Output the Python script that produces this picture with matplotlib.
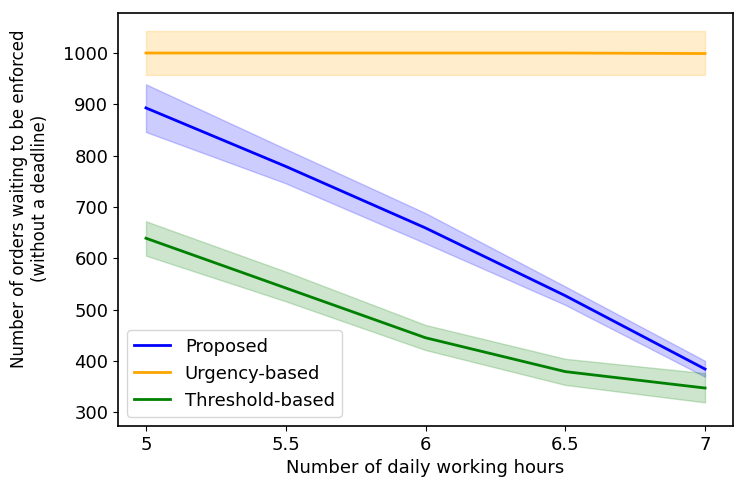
import matplotlib
matplotlib.use("Agg")
from matplotlib import pyplot as plt

hours = [5, 5.5, 6, 6.5, 7]
hour_labels = ["5", "5.5", "6", "6.5", "7"]

proposed = [893, 779, 659, 527, 384]
proposed_lo = [846, 746, 629, 509, 369]
proposed_hi = [939, 813, 688, 545, 400]

urgency = [1000, 1000, 1000, 1000, 999]
urgency_lo = [958, 958, 958, 958, 958]
urgency_hi = [1042, 1042, 1042, 1042, 1042]

threshold = [639, 542, 445, 379, 347]
threshold_lo = [605, 516, 421, 353, 319]
threshold_hi = [672, 574, 470, 404, 376]

plt.rcParams["font.size"] = 13
plt.rcParams["axes.linewidth"] = 1.2

fig = plt.figure(figsize=(7.47, 4.9), dpi=100)
ax = fig.add_axes([118 / 747, 1 - 426 / 490, 615 / 747, 413 / 490])

ax.plot(hours, proposed, color="blue", lw=2, label="Proposed")
ax.fill_between(hours, proposed_lo, proposed_hi, color="blue", alpha=0.2)
ax.plot(hours, urgency, color="orange", lw=2, label="Urgency-based")
ax.fill_between(hours, urgency_lo, urgency_hi, color="orange", alpha=0.2)
ax.plot(hours, threshold, color="green", lw=2, label="Threshold-based")
ax.fill_between(hours, threshold_lo, threshold_hi, color="green", alpha=0.2)

ax.set_xticks(hours)
ax.set_xticklabels(hour_labels)
ax.set_xlim(4.9, 7.1)
ax.set_ylim(273, 1078)
ax.set_xlabel("Number of daily working hours")
ax.set_ylabel("Number of orders waiting to be enforced\n(without a deadline)", fontsize=12)
ax.yaxis.set_label_coords(-0.113, 0.55)
ax.legend(loc="lower left")

fig.savefig("out.png", dpi=100)
